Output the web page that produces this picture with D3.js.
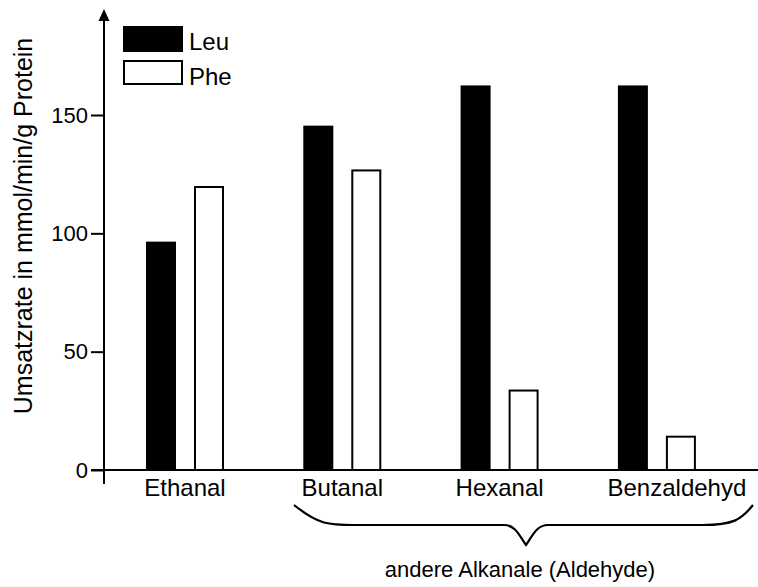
<!DOCTYPE html>
<html>
<head>
<meta charset="utf-8">
<script src="https://cdn.jsdelivr.net/npm/d3@7"></script>
<style>
  html, body { margin: 0; padding: 0; background: #fff; }
  svg { display: block; font-family: "Liberation Sans", Arial, Helvetica, sans-serif; }
</style>
</head>
<body>
<svg id="chart" width="758" height="587"></svg>
<script>
const categories = ["Ethanal", "Butanal", "Hexanal", "Benzaldehyd"];
const series = ["Leu", "Phe"];
const leuValues = [96.5, 145.5, 162.5, 162.5];
const pheValues = [120, 127, 34, 14.5];
const yTicks = [0, 50, 100, 150];
const yLabel = "Umsatzrate in mmol/min/g Protein";
const braceLabel = "andere Alkanale (Aldehyde)";

const svg = d3.select("#chart");
const axisX = 104, baseY = 470;

const y = d3.scaleLinear().domain([0, 150]).range([baseY, 115]);
const x0 = d3.scaleBand().domain(categories).range([106.35, 735.55]).padding(0);
const x1 = d3.scaleBand().domain(series).range([-39, 39]).paddingInner(0.375).paddingOuter(0);
const colorFill = { Leu: "#000", Phe: "#fff" };

const data = categories.map((c, i) => ({ cat: c, Leu: leuValues[i], Phe: pheValues[i] }));

// bars
const groups = svg.append("g").selectAll("g").data(data).join("g")
  .attr("transform", d => `translate(${x0(d.cat) + x0.bandwidth() / 2},0)`);
groups.selectAll("rect").data(d => series.map(s => ({ s, v: d[s] }))).join("rect")
  .attr("x", d => x1(d.s) + (d.s === "Phe" ? 1 : 0))
  .attr("width", d => x1.bandwidth() - (d.s === "Phe" ? 2 : 0))
  .attr("y", d => y(d.v) + (d.s === "Phe" ? 1 : 0))
  .attr("height", d => baseY - y(d.v) - (d.s === "Phe" ? 1 : 0))
  .attr("fill", d => colorFill[d.s])
  .attr("stroke", d => d.s === "Phe" ? "#000" : "none")
  .attr("stroke-width", 2);

// y axis
const yAxis = d3.axisLeft(y).tickValues(yTicks).tickSize(13).tickPadding(3);
const gy = svg.append("g").attr("transform", `translate(${axisX},0)`).call(yAxis);
gy.select(".domain").remove();
gy.selectAll(".tick line").attr("stroke", "#000").attr("stroke-width", 2);
gy.selectAll(".tick text").attr("font-size", 22).attr("fill", "#000")
  .attr("font-family", "Liberation Sans, Arial, sans-serif");

svg.append("line").attr("x1", axisX).attr("x2", axisX).attr("y1", 18).attr("y2", 484)
  .attr("stroke", "#000").attr("stroke-width", 2);
svg.append("path").attr("d", `M${axisX},9 L${axisX - 5.5},21 L${axisX + 5.5},21 Z`).attr("fill", "#000");

// x axis
svg.append("line").attr("x1", 91).attr("x2", 758).attr("y1", baseY).attr("y2", baseY)
  .attr("stroke", "#000").attr("stroke-width", 2);
const xAxis = d3.axisBottom(x0).tickSize(0).tickPadding(10);
const gx = svg.append("g").attr("transform", `translate(0,${baseY})`).call(xAxis);
gx.select(".domain").remove();
gx.selectAll(".tick text").attr("font-size", 24).attr("fill", "#000")
  .attr("font-family", "Liberation Sans, Arial, sans-serif")
  .attr("dy", "0.66em")
  .attr("dx", d => d === "Benzaldehyd" ? 20 : 0);

// y label
svg.append("text")
  .attr("transform", `translate(32,226) rotate(-90)`)
  .attr("text-anchor", "middle")
  .attr("font-size", 25)
  .attr("fill", "#000")
  .text(yLabel);

// legend
const legend = svg.append("g");
const legY = { Leu: 26, Phe: 61 };
series.forEach(s => {
  legend.append("rect")
    .attr("x", s === "Phe" ? 124 : 123).attr("y", legY[s])
    .attr("width", s === "Phe" ? 58 : 60).attr("height", s === "Phe" ? 23 : 26)
    .attr("fill", colorFill[s]).attr("stroke", s === "Phe" ? "#000" : "none").attr("stroke-width", 2);
  legend.append("text").attr("x", 189).attr("y", legY[s] + 24)
    .attr("font-size", 24).attr("fill", "#000").text(s);
});

// brace
const bx1 = 294, bx2 = 753, by0 = 505, by1 = 525, tipY = 545;
const mid = 526;
const bracePath = `M${bx1},${by0} C${bx1 + 25},${by1} ${bx1 + 35},${by1} ${bx1 + 60},${by1}
  L${mid - 22},${by1} C${mid - 10},${by1} ${mid - 6},${tipY - 8} ${mid},${tipY}
  C${mid + 6},${tipY - 8} ${mid + 10},${by1} ${mid + 22},${by1}
  L${bx2 - 50},${by1} C${bx2 - 20},${by1} ${bx2 - 12},${by1 - 5} ${bx2},${by0}`;
svg.append("path").attr("d", bracePath).attr("fill", "none").attr("stroke", "#000").attr("stroke-width", 2.2);

svg.append("text").attr("x", 520).attr("y", 577).attr("text-anchor", "middle")
  .attr("font-size", 22).attr("fill", "#000").text(braceLabel);
</script>
</body>
</html>
